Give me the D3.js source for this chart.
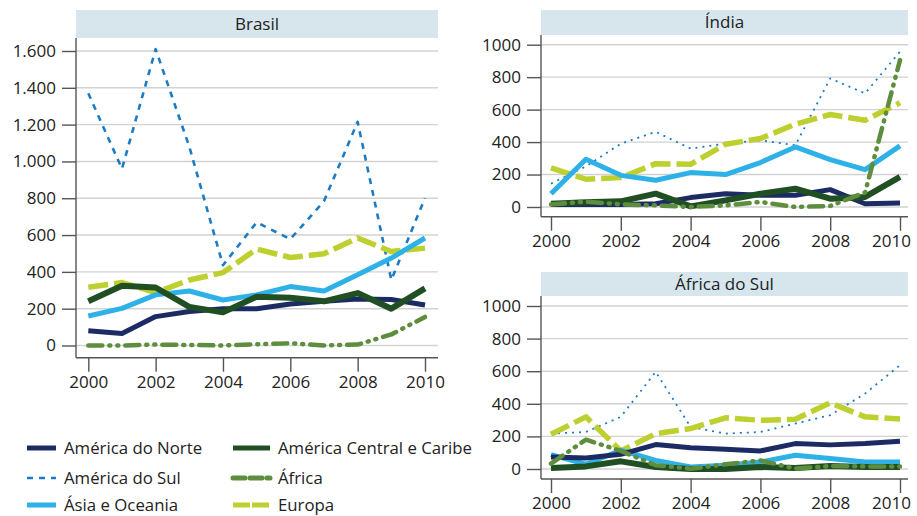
<!DOCTYPE html>
<html>
<head>
<meta charset="utf-8">
<script src="https://cdn.jsdelivr.net/npm/d3@7"></script>
<style>
  body { margin: 0; background: #fff; }
  svg text { font-family: "Open Sans", "Noto Sans", sans-serif; fill: #222; }
  .grid line { stroke: #d2d2d2; stroke-width: 1.4; }
  .axis path, .axis line { stroke: #555; stroke-width: 1.4; }
</style>
</head>
<body>
<svg id="chart" width="917" height="516"></svg>
<script>
var years = [2000, 2001, 2002, 2003, 2004, 2005, 2006, 2007, 2008, 2009, 2010];
var xTicks = [2000, 2002, 2004, 2006, 2008, 2010];
var seriesNames = ["América do Norte", "América Central e Caribe", "América do Sul", "África", "Ásia e Oceania", "Europa"];

// Brasil
var brNorte   = [80, 65, 157, 185, 200, 200, 225, 240, 253, 250, 220];
var brCentral = [240, 325, 315, 210, 180, 265, 260, 240, 285, 200, 310];
var brSul     = [1370, 960, 1610, 1080, 436, 669, 578, 784, 1215, 356, 802];
var brAfrica  = [0, 0, 5, 3, 0, 7, 12, 0, 5, 60, 155];
var brAsia    = [160, 202, 275, 296, 247, 275, 320, 296, 384, 475, 584];
var brEuropa  = [316, 342, 287, 356, 396, 524, 478, 498, 584, 511, 529];

// Índia
var inNorte   = [16, 16, 16, 20, 58, 82, 72, 72, 107, 20, 25];
var inCentral = [20, 30, 35, 82, 4, 41, 82, 113, 51, 62, 185];
var inSul     = [144, 250, 390, 463, 360, 390, 411, 380, 792, 700, 957];
var inAfrica  = [16, 33, 16, 10, 0, 10, 31, 0, 6, 90, 905];
var inAsia    = [82, 294, 195, 165, 212, 200, 274, 370, 292, 230, 377];
var inEuropa  = [241, 171, 181, 267, 263, 387, 422, 510, 570, 535, 642];

// África do Sul
var saNorte   = [74, 68, 90, 150, 131, 121, 111, 156, 148, 156, 170];
var saCentral = [6, 16, 47, 12, 0, 0, 12, 6, 18, 12, 12];
var saSul     = [217, 227, 320, 596, 258, 217, 227, 279, 330, 463, 637];
var saAfrica  = [33, 180, 111, 23, 2, 29, 53, 2, 18, 16, 16];
var saAsia    = [88, 29, 115, 53, 12, 23, 43, 84, 64, 43, 43];
var saEuropa  = [213, 320, 111, 217, 248, 314, 299, 305, 406, 320, 307];

var brTicks = [0, 200, 400, 600, 800, 1000, 1200, 1400, 1600];
var smallTicks = [0, 200, 400, 600, 800, 1000];

var styles = {
  "América do Norte":         {color: "#1c2b63", width: 5, dash: null},
  "América Central e Caribe": {color: "#1f4f22", width: 6, dash: null},
  "América do Sul":           {color: "#1b7cc4", width: 2.6, dash: "6,6", dashSmall: "2,5", widthSmall: 1.8},
  "África":                   {color: "#5e8d3e", width: 4.5, dash: "14,7,1,7,1,7", cap: "round"},
  "Ásia e Oceania":           {color: "#2db1e6", width: 5, dash: null},
  "Europa":                   {color: "#bdd02f", width: 5.5, dash: "20,6"}
};
var drawOrder = ["América do Sul", "Europa", "Ásia e Oceania", "América do Norte", "América Central e Caribe", "África"];

var svg = d3.select("#chart");

var panels = [
  {title: "Brasil", left: 76, right: 438, headTop: 10, headBot: 38, axisBot: 357.7,
   x0: 88.3, x1: 425, y0: 345.5, yTop: 51, yMax: 1600, ticks: brTicks, sep: true, small: false,
   data: {"América do Norte": brNorte, "América Central e Caribe": brCentral, "América do Sul": brSul,
          "África": brAfrica, "Ásia e Oceania": brAsia, "Europa": brEuropa}},
  {title: "Índia", left: 541, right: 908, headTop: 10, headBot: 35, axisBot: 216.7,
   x0: 551, x1: 900, y0: 207, yTop: 44.7, yMax: 1000, ticks: smallTicks, sep: false, small: true,
   data: {"América do Norte": inNorte, "América Central e Caribe": inCentral, "América do Sul": inSul,
          "África": inAfrica, "Ásia e Oceania": inAsia, "Europa": inEuropa}},
  {title: "África do Sul", left: 541, right: 908, headTop: 272, headBot: 296, axisBot: 479,
   x0: 551, x1: 900, y0: 469, yTop: 306, yMax: 1000, ticks: smallTicks, sep: false, small: true,
   data: {"América do Norte": saNorte, "América Central e Caribe": saCentral, "América do Sul": saSul,
          "África": saAfrica, "Ásia e Oceania": saAsia, "Europa": saEuropa}}
];

panels.forEach(function(p) {
  var x = d3.scaleLinear().domain([2000, 2010]).range([p.x0, p.x1]);
  var y = d3.scaleLinear().domain([0, p.yMax]).range([p.y0, p.yTop]);
  var g = svg.append("g");

  // header strip
  g.append("rect")
    .attr("x", p.left).attr("y", p.headTop)
    .attr("width", p.right - p.left).attr("height", p.headBot - p.headTop)
    .attr("fill", "#d7e5ed");
  g.append("text")
    .attr("x", (p.left + p.right) / 2).attr("y", (p.headTop + p.headBot) / 2)
    .attr("dy", "0.35em").attr("text-anchor", "middle")
    .style("font-size", "17px").attr("fill", "#333")
    .text(p.title);

  // gridlines
  g.append("g").attr("class", "grid")
    .selectAll("line").data(p.ticks).enter().append("line")
    .attr("x1", p.left).attr("x2", p.right)
    .attr("y1", function(d) { return y(d); }).attr("y2", function(d) { return y(d); });

  // y axis
  var fmt = function(d) {
    var s = String(d);
    if (p.sep && d >= 1000) s = s.slice(0, s.length - 3) + "." + s.slice(-3);
    return s;
  };
  var yAxis = g.append("g").attr("class", "axis")
    .attr("transform", "translate(" + p.left + ",0)")
    .call(d3.axisLeft(y).tickValues(p.ticks).tickFormat(fmt).tickSize(14).tickPadding(6).tickSizeOuter(0));
  yAxis.select(".domain").remove();
  yAxis.selectAll("text").style("font-size", "17px");
  g.append("line")
    .attr("x1", p.left).attr("x2", p.left)
    .attr("y1", p.headBot).attr("y2", p.axisBot)
    .attr("stroke", "#555").attr("stroke-width", 1.4);

  // x axis
  var xAxis = g.append("g").attr("class", "axis")
    .attr("transform", "translate(0," + p.axisBot + ")")
    .call(d3.axisBottom(x).tickValues(xTicks).tickFormat(d3.format("d")).tickSize(14).tickPadding(4).tickSizeOuter(0));
  xAxis.select(".domain").remove();
  xAxis.selectAll("text").style("font-size", "17px");
  if (p.small) {
    // last label is pulled in so it stays inside the page
    xAxis.selectAll("text").filter(function(d) { return d == 2010; }).attr("dx", "-9");
  }
  g.append("line")
    .attr("x1", p.left).attr("x2", p.right)
    .attr("y1", p.axisBot).attr("y2", p.axisBot)
    .attr("stroke", "#555").attr("stroke-width", 1.4);

  var line = d3.line()
    .x(function(d, i) { return x(years[i]); })
    .y(function(d) { return y(d); });

  drawOrder.forEach(function(name) {
    var st = styles[name];
    var dash = p.small && st.dashSmall ? st.dashSmall : st.dash;
    var w = p.small && st.widthSmall ? st.widthSmall : st.width;
    g.append("path")
      .datum(p.data[name])
      .attr("fill", "none")
      .attr("stroke", st.color)
      .attr("stroke-width", w)
      .attr("stroke-dasharray", dash)
      .attr("stroke-linecap", st.cap || "butt")
      .attr("stroke-linejoin", "round")
      .attr("d", line);
  });
});

// legend
var legendItems = [
  {name: "América do Norte", x: 27, y: 448},
  {name: "América Central e Caribe", x: 233, y: 448},
  {name: "América do Sul", x: 27, y: 478},
  {name: "África", x: 233, y: 478},
  {name: "Ásia e Oceania", x: 27, y: 505},
  {name: "Europa", x: 233, y: 505}
];
var legend = svg.append("g");
legendItems.forEach(function(it) {
  var st = styles[it.name];
  var len = it.x < 100 ? 29 : 37;
  legend.append("line")
    .attr("x1", it.x).attr("x2", it.x + len)
    .attr("y1", it.y).attr("y2", it.y)
    .attr("stroke", st.color)
    .attr("stroke-width", it.name == "América do Sul" ? 2.6 : 5)
    .attr("stroke-dasharray", it.name == "América do Sul" ? "6,6" : (it.name == "África" ? "12,5" : (it.name == "Europa" ? "17,2" : null)))
    .attr("stroke-linecap", it.name == "África" ? "round" : "butt");
  legend.append("text")
    .attr("x", it.x + len + 8).attr("y", it.y)
    .attr("dy", "0.35em")
    .style("font-size", "16.8px")
    .text(it.name);
});
</script>
</body>
</html>
